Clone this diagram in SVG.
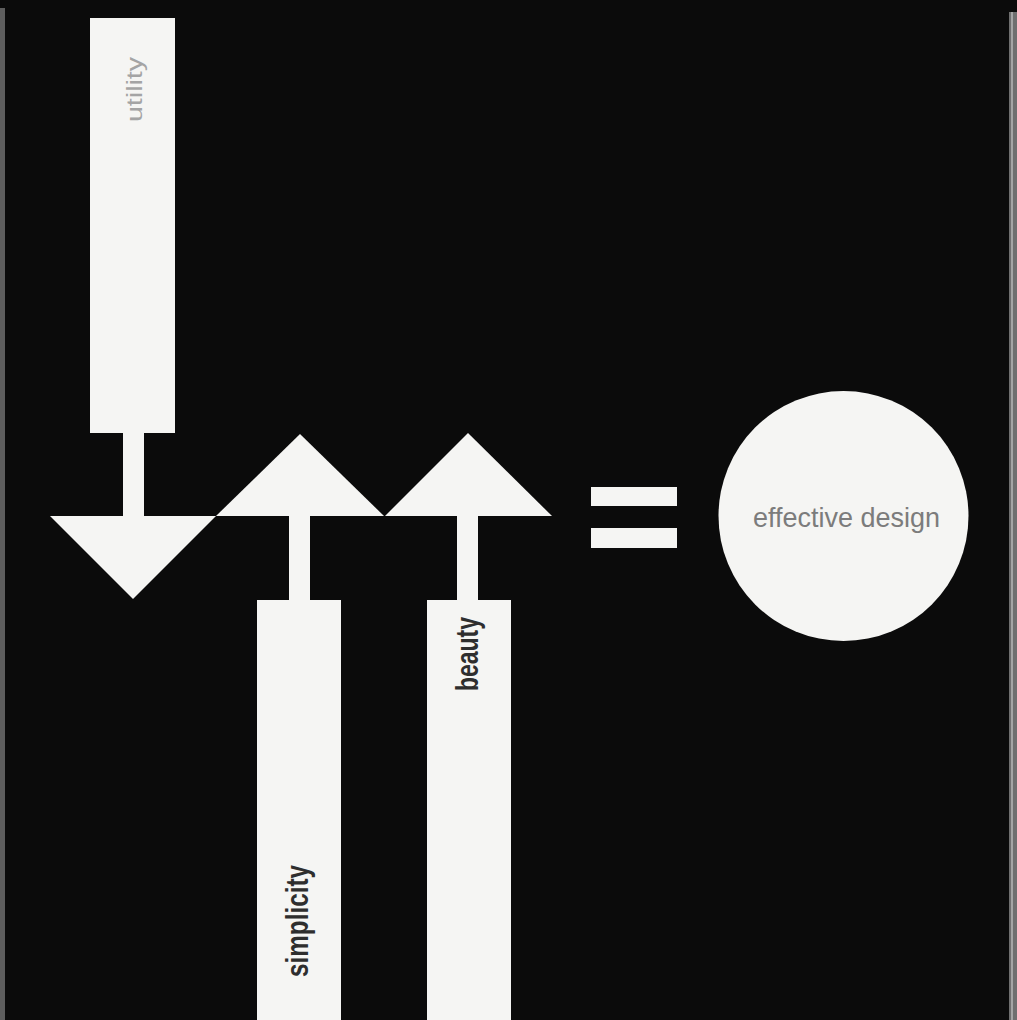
<svg xmlns="http://www.w3.org/2000/svg" width="1017" height="1020" viewBox="0 0 1017 1020">
  <style>
    .shape { fill: #f5f5f3; }
    .lbl { font-family: "Liberation Sans Narrow", "Liberation Sans", "DejaVu Sans", sans-serif; }
    .dark { fill: #2e2e2e; font-weight: bold; font-size: 32px; }
    .light { fill: #a4a4a4; font-size: 22px; }
    .mid { fill: #7c7c7c; font-size: 28px; }
  </style>
  <rect x="0" y="0" width="1017" height="1020" fill="#0b0b0b"/>
  <rect x="0" y="8" width="5" height="1012" fill="#5e5e5e"/>
  <rect x="1009" y="12" width="8" height="1008" fill="#6f6f6f"/>
  <rect x="1011" y="12" width="2" height="1008" fill="#a5a5a5"/>

  <g id="connectors">
    <rect class="shape" x="123" y="430" width="21" height="88"/>
    <rect class="shape" x="289" y="514" width="21" height="88"/>
    <rect class="shape" x="457" y="514" width="21" height="88"/>
  </g>

  <g id="utility">
    <rect class="shape" x="90" y="18" width="85" height="415"/>
    <polygon class="shape" points="50,516 216,516 133,599"/>
    <text class="lbl light" transform="translate(142,122) rotate(-90)" textLength="65" lengthAdjust="spacingAndGlyphs">utility</text>
  </g>

  <g id="simplicity">
    <polygon class="shape" points="216,516 384,516 300,434"/>
    <rect class="shape" x="257" y="600" width="84" height="420"/>
    <text class="lbl dark" transform="translate(308,977) rotate(-90)" textLength="112" lengthAdjust="spacingAndGlyphs">simplicity</text>
  </g>

  <g id="beauty">
    <polygon class="shape" points="385,516 552,516 468,433"/>
    <rect class="shape" x="427" y="600" width="84" height="420"/>
    <text class="lbl dark" transform="translate(478,691) rotate(-90)" textLength="74" lengthAdjust="spacingAndGlyphs">beauty</text>
  </g>

  <g id="equals">
    <rect class="shape" x="591" y="487" width="86" height="19"/>
    <rect class="shape" x="591" y="528" width="86" height="20"/>
  </g>

  <g id="effective-design">
    <circle class="shape" cx="843.5" cy="516" r="125"/>
    <text class="lbl mid" x="753" y="527" textLength="187" lengthAdjust="spacingAndGlyphs">effective design</text>
  </g>
</svg>
